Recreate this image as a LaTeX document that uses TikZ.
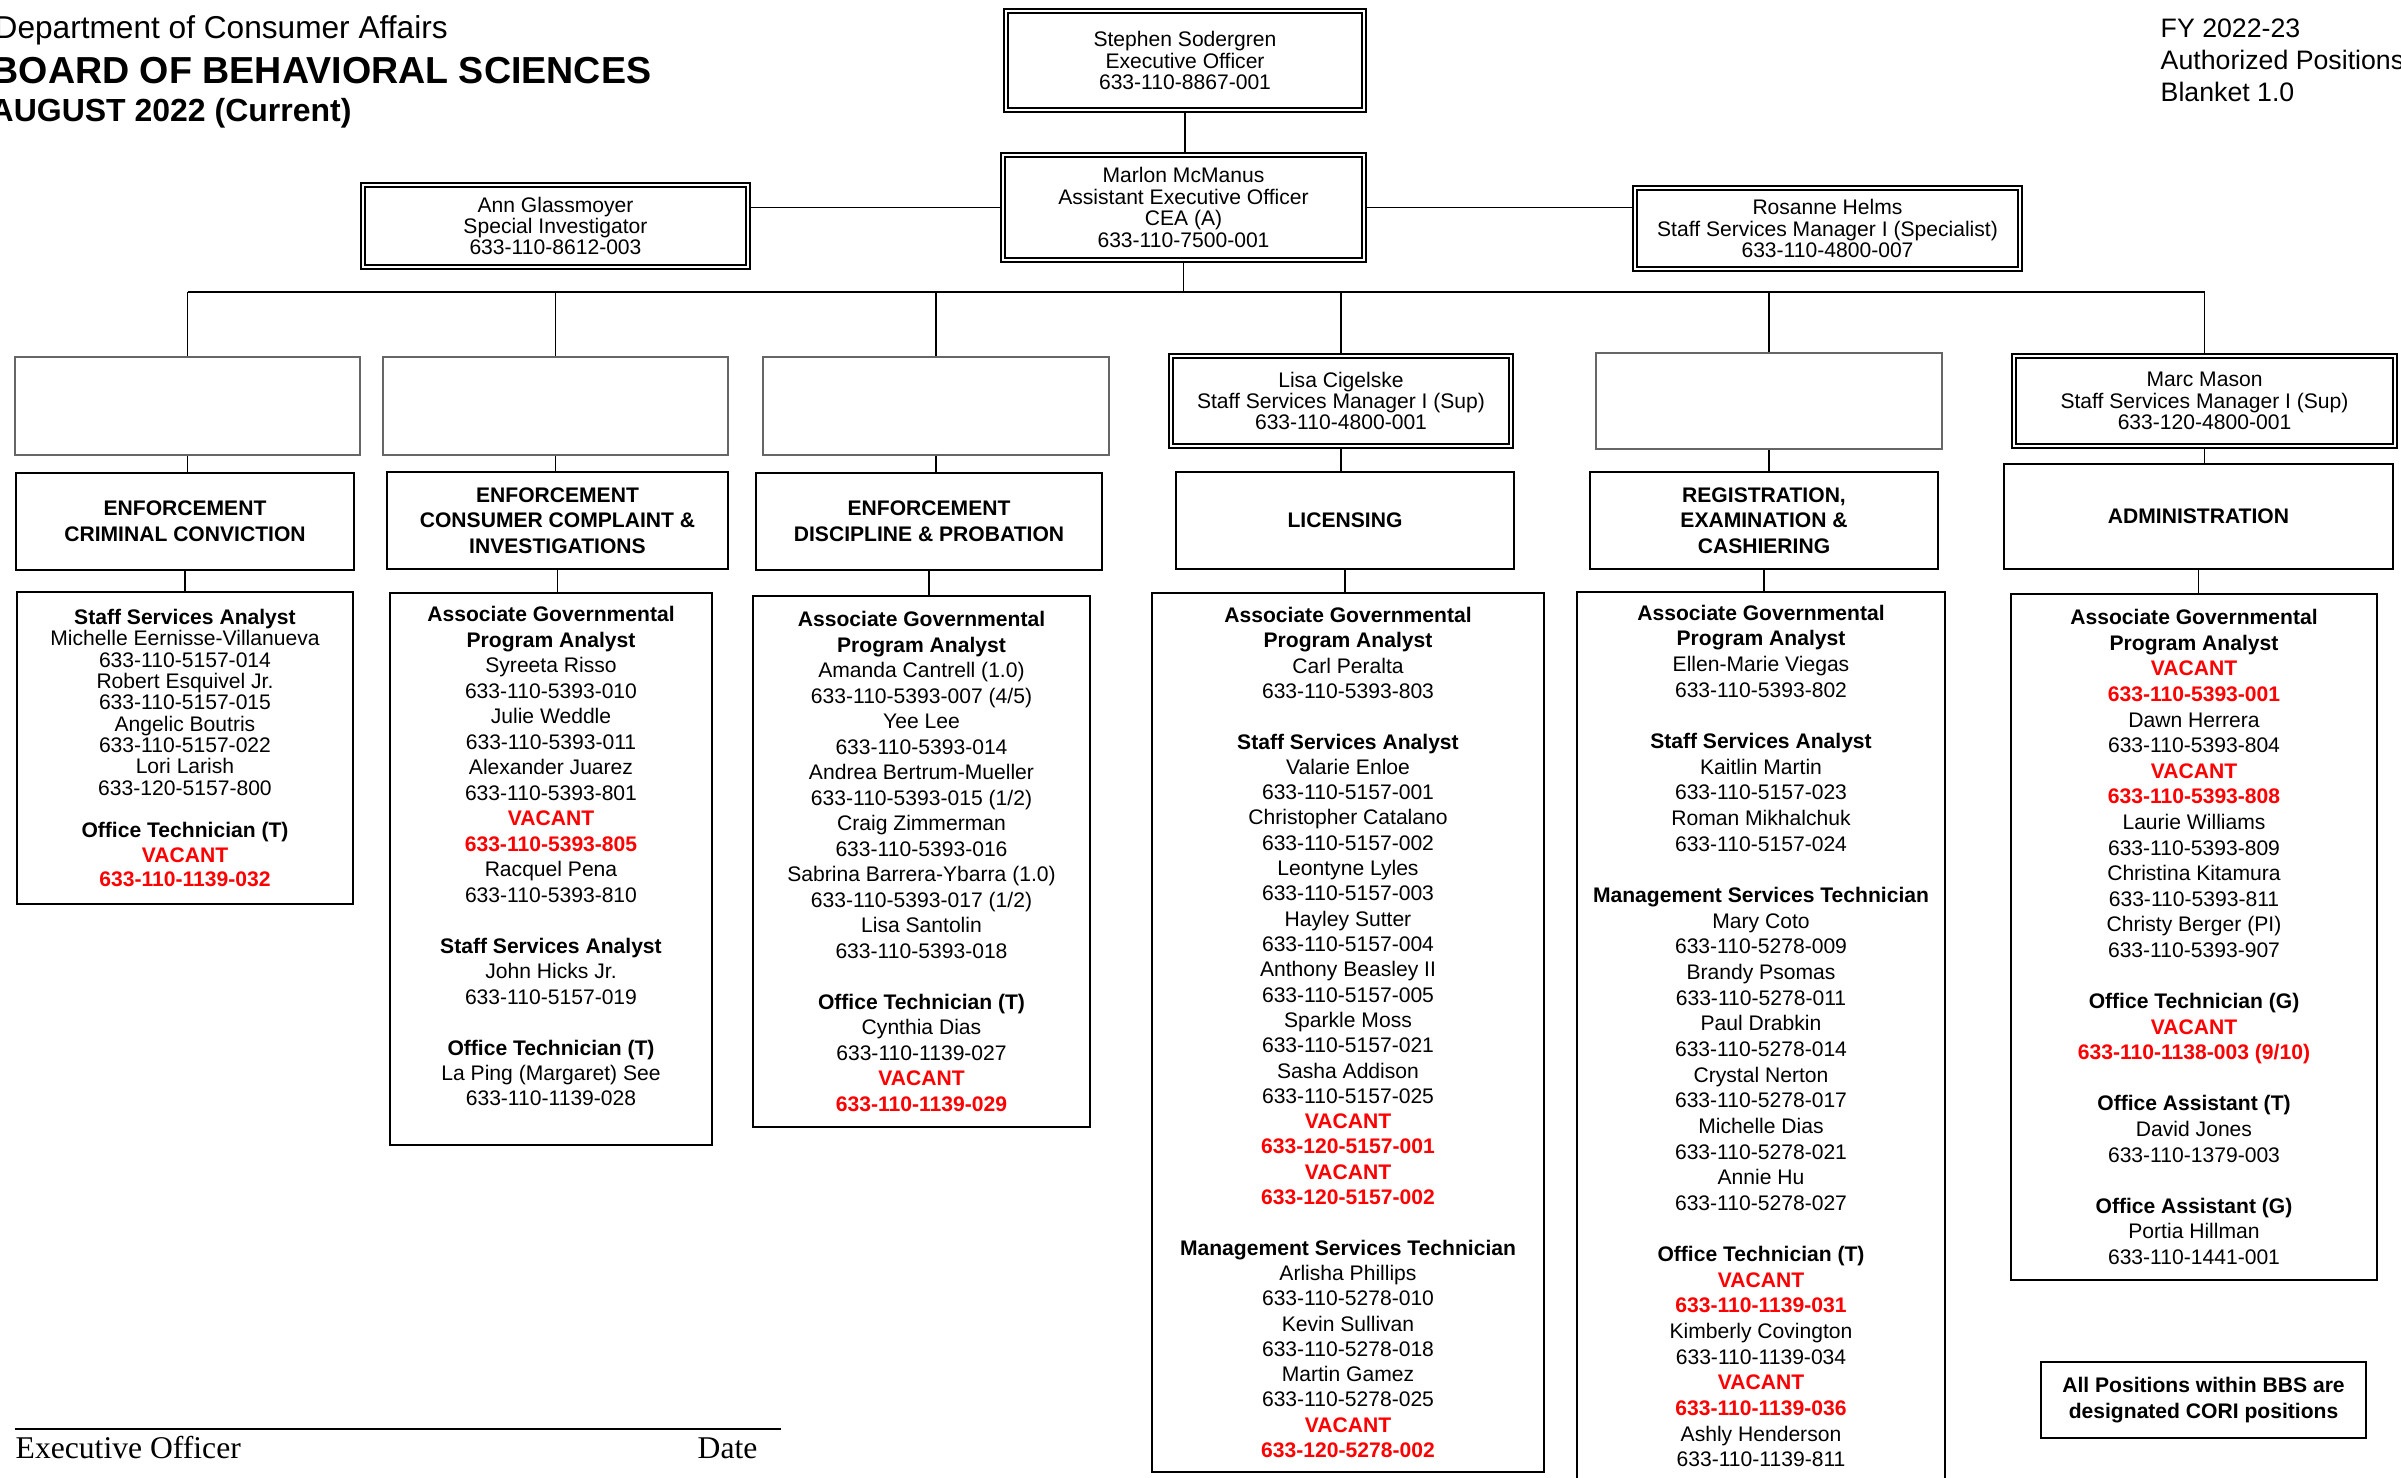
\documentclass[tikz,border=0pt]{standalone}
\usepackage{fontspec}
\setmainfont{Liberation Sans}
\newfontfamily\sigfont{Liberation Serif}
\usepackage{tikz}

\definecolor{vacred}{RGB}{255,0,0}
\newcommand{\jtitle}[1]{\textbf{#1}}
\newcommand{\vacant}[1]{\textcolor{vacred}{\textbf{#1}}}

\begin{document}
\begin{tikzpicture}[
    postbox/.style={draw,double,double distance=0.8pt,line width=0.5pt,fill=white,align=center,inner sep=1pt,font=\fontsize{6}{6.1}\selectfont},
    emptybox/.style={draw=black!60,line width=0.4pt,fill=white},
    unitbox/.style={draw,line width=0.6pt,fill=white,align=center,font=\fontsize{6}{7.3}\selectfont\bfseries},
    staffbox/.style={draw,line width=0.6pt,fill=white,align=center,inner sep=1pt,font=\fontsize{6}{7.25}\selectfont},
    headtext/.style={anchor=base west,inner sep=0pt},
    wire/.style={line width=0.5pt}]

    \path[use as bounding box,fill=white] (0,0) rectangle (24.01,-14.77);

    % heading
    \node[headtext,font=\fontsize{9}{10}\selectfont] (dca) at (-0.06,-0.385) {Department of Consumer Affairs};
    \node[headtext,font=\fontsize{10.7}{12}\selectfont\bfseries] (bbs) at (-0.09,-0.83) {BOARD OF BEHAVIORAL SCIENCES};
    \node[headtext,font=\fontsize{9.1}{10}\selectfont\bfseries] (month) at (-0.10,-1.21) {AUGUST 2022 (Current)};

    \node[headtext,font=\fontsize{7.6}{9}\selectfont] (fy) at (21.60,-0.37) {FY 2022-23};
    \node[headtext,font=\fontsize{7.6}{9}\selectfont] (auth) at (21.60,-0.69) {Authorized Positions};
    \node[headtext,font=\fontsize{7.6}{9}\selectfont] (blanket) at (21.60,-1.01) {Blanket 1.0};

    % executive level
    \node[postbox,minimum width=3.58cm,minimum height=0.99cm] (eo) at (11.85,-0.605)
        {Stephen Sodergren\\Executive Officer\\633-110-8867-001};
    \node[postbox,minimum width=3.61cm,minimum height=1.05cm] (aeo) at (11.835,-2.075)
        {Marlon McManus\\Assistant Executive Officer\\CEA (A)\\633-110-7500-001};
    \node[postbox,minimum width=3.85cm,minimum height=0.82cm] (inv) at (5.555,-2.26)
        {Ann Glassmoyer\\Special Investigator\\633-110-8612-003};
    \node[postbox,minimum width=3.85cm,minimum height=0.81cm] (spec) at (18.275,-2.285)
        {Rosanne Helms\\Staff Services Manager I (Specialist)\\633-110-4800-007};

    % managers
    \node[emptybox,minimum width=3.45cm,minimum height=0.98cm] (e1) at (1.875,-4.06) {};
    \node[emptybox,minimum width=3.45cm,minimum height=0.98cm] (e2) at (5.555,-4.06) {};
    \node[emptybox,minimum width=3.46cm,minimum height=0.98cm] (e3) at (9.36,-4.06) {};
    \node[postbox,minimum width=3.40cm,minimum height=0.90cm] (lisa) at (13.41,-4.01)
        {Lisa Cigelske\\Staff Services Manager I (Sup)\\633-110-4800-001};
    \node[emptybox,minimum width=3.46cm,minimum height=0.96cm] (e5) at (17.69,-4.01) {};
    \node[postbox,minimum width=3.81cm,minimum height=0.90cm] (marc) at (22.045,-4.01)
        {Marc Mason\\Staff Services Manager I (Sup)\\633-120-4800-001};

    % units
    \node[unitbox,minimum width=3.38cm,minimum height=0.97cm] (cc) at (1.85,-5.215)
        {ENFORCEMENT\\CRIMINAL CONVICTION};
    \node[unitbox,minimum width=3.41cm,minimum height=0.97cm] (ci) at (5.575,-5.205)
        {ENFORCEMENT\\CONSUMER COMPLAINT \&\\INVESTIGATIONS};
    \node[unitbox,minimum width=3.46cm,minimum height=0.97cm] (dp) at (9.29,-5.215)
        {ENFORCEMENT\\DISCIPLINE \& PROBATION};
    \node[unitbox,minimum width=3.38cm,minimum height=0.97cm] (lic) at (13.45,-5.205)
        {LICENSING};
    \node[unitbox,minimum width=3.48cm,minimum height=0.97cm] (rec) at (17.64,-5.205)
        {REGISTRATION,\\EXAMINATION \&\\CASHIERING};
    \node[unitbox,minimum width=3.89cm,minimum height=1.05cm] (adm) at (21.985,-5.165)
        {ADMINISTRATION};

    % staff lists
    \node[staffbox,minimum width=3.36cm,minimum height=3.12cm,font=\fontsize{6}{6.07}\selectfont] (l1) at (1.85,-7.48)
        {\jtitle{Staff Services Analyst}\\
         Michelle Eernisse-Villanueva\\633-110-5157-014\\
         Robert Esquivel Jr.\\633-110-5157-015\\
         Angelic Boutris\\633-110-5157-022\\
         Lori Larish\\633-120-5157-800\\[6.07pt]
         \jtitle{Office Technician (T)}\\[0.9pt]
         \vacant{VACANT}\\[0.9pt]\vacant{633-110-1139-032}};

    \node[staffbox,minimum width=3.22cm,minimum height=5.52cm] (l2) at (5.51,-8.69)
        {\jtitle{Associate Governmental}\\\jtitle{Program Analyst}\\
         Syreeta Risso\\633-110-5393-010\\
         Julie Weddle\\633-110-5393-011\\
         Alexander Juarez\\633-110-5393-801\\
         \vacant{VACANT}\\\vacant{633-110-5393-805}\\
         Racquel Pena\\633-110-5393-810\\[7.25pt]
         \jtitle{Staff Services Analyst}\\
         John Hicks Jr.\\633-110-5157-019\\[7.25pt]
         \jtitle{Office Technician (T)}\\
         La Ping (Margaret) See\\633-110-1139-028\\ \mbox{}};

    \node[staffbox,minimum width=3.37cm,minimum height=5.31cm] (l3) at (9.215,-8.615)
        {\jtitle{Associate Governmental}\\\jtitle{Program Analyst}\\
         Amanda Cantrell (1.0)\\633-110-5393-007 (4/5)\\
         Yee Lee\\633-110-5393-014\\
         Andrea Bertrum-Mueller\\633-110-5393-015 (1/2)\\
         Craig Zimmerman\\633-110-5393-016\\
         Sabrina Barrera-Ybarra (1.0)\\633-110-5393-017 (1/2)\\
         Lisa Santolin\\633-110-5393-018\\[7.25pt]
         \jtitle{Office Technician (T)}\\
         Cynthia Dias\\633-110-1139-027\\
         \vacant{VACANT}\\\vacant{633-110-1139-029}};

    \node[staffbox,minimum width=3.92cm,minimum height=8.79cm,font=\fontsize{6}{7.2}\selectfont] (l4) at (13.48,-10.325)
        {\jtitle{Associate Governmental}\\\jtitle{Program Analyst}\\
         Carl Peralta\\633-110-5393-803\\[7.2pt]
         \jtitle{Staff Services Analyst}\\
         Valarie Enloe\\633-110-5157-001\\
         Christopher Catalano\\633-110-5157-002\\
         Leontyne Lyles\\633-110-5157-003\\
         Hayley Sutter\\633-110-5157-004\\
         Anthony Beasley II\\633-110-5157-005\\
         Sparkle Moss\\633-110-5157-021\\
         Sasha Addison\\633-110-5157-025\\
         \vacant{VACANT}\\\vacant{633-120-5157-001}\\
         \vacant{VACANT}\\\vacant{633-120-5157-002}\\[7.2pt]
         \jtitle{Management Services Technician}\\
         Arlisha Phillips\\633-110-5278-010\\
         Kevin Sullivan\\633-110-5278-018\\
         Martin Gamez\\633-110-5278-025\\
         \vacant{VACANT}\\\vacant{633-120-5278-002}};

    \node[staffbox,minimum width=3.68cm,minimum height=8.88cm,font=\fontsize{6}{7.3}\selectfont] (l5) at (17.61,-10.36)
        {\jtitle{Associate Governmental}\\\jtitle{Program Analyst}\\
         Ellen-Marie Viegas\\633-110-5393-802\\[7.3pt]
         \jtitle{Staff Services Analyst}\\
         Kaitlin Martin\\633-110-5157-023\\
         Roman Mikhalchuk\\633-110-5157-024\\[7.3pt]
         \jtitle{Management Services Technician}\\
         Mary Coto\\633-110-5278-009\\
         Brandy Psomas\\633-110-5278-011\\
         Paul Drabkin\\633-110-5278-014\\
         Crystal Nerton\\633-110-5278-017\\
         Michelle Dias\\633-110-5278-021\\
         Annie Hu\\633-110-5278-027\\[7.3pt]
         \jtitle{Office Technician (T)}\\
         \vacant{VACANT}\\\vacant{633-110-1139-031}\\
         Kimberly Covington\\633-110-1139-034\\
         \vacant{VACANT}\\\vacant{633-110-1139-036}\\
         Ashly Henderson\\633-110-1139-811};

    \node[staffbox,minimum width=3.66cm,minimum height=6.86cm,font=\fontsize{6}{7.28}\selectfont] (l6) at (21.94,-9.37)
        {\jtitle{Associate Governmental}\\\jtitle{Program Analyst}\\
         \vacant{VACANT}\\\vacant{633-110-5393-001}\\
         Dawn Herrera\\633-110-5393-804\\
         \vacant{VACANT}\\\vacant{633-110-5393-808}\\
         Laurie Williams\\633-110-5393-809\\
         Christina Kitamura\\633-110-5393-811\\
         Christy Berger (PI)\\633-110-5393-907\\[7.28pt]
         \jtitle{Office Technician (G)}\\
         \vacant{VACANT}\\\vacant{633-110-1138-003 (9/10)}\\[7.28pt]
         \jtitle{Office Assistant (T)}\\
         David Jones\\633-110-1379-003\\[7.28pt]
         \jtitle{Office Assistant (G)}\\
         Portia Hillman\\633-110-1441-001};

    \node[unitbox,minimum width=3.25cm,minimum height=0.76cm,font=\fontsize{6}{7.4}\selectfont\bfseries] (cori) at (22.035,-14.00)
        {All Positions within BBS are\\designated CORI positions};

    % connectors
    \coordinate (bus) at (0,-2.92);
    \draw[wire] (eo) -- (eo |- aeo.north);
    \draw[wire] (inv.east |- aeo) -- (aeo);
    \draw[wire] (aeo) -- (spec.west |- aeo);
    \draw[wire] (aeo) -- (aeo |- bus);
    \draw[wire] (e1 |- bus) -- (marc |- bus);

    \draw[wire] (e1 |- bus) -- (e1);
    \draw[wire] (e2 |- bus) -- (e2);
    \draw[wire] (e3 |- bus) -- (e3);
    \draw[wire] (lisa |- bus) -- (lisa);
    \draw[wire] (e5 |- bus) -- (e5);
    \draw[wire] (marc |- bus) -- (marc);

    \draw[wire] (e1) -- (e1 |- cc.north);
    \draw[wire] (e2) -- (e2 |- ci.north);
    \draw[wire] (e3) -- (e3 |- dp.north);
    \draw[wire] (lisa) -- (lisa |- lic.north);
    \draw[wire] (e5) -- (e5 |- rec.north);
    \draw[wire] (marc) -- (marc |- adm.north);

    \draw[wire] (cc) -- (cc |- l1.north);
    \draw[wire] (ci) -- (ci |- l2.north);
    \draw[wire] (dp) -- (dp |- l3.north);
    \draw[wire] (lic) -- (lic |- l4.north);
    \draw[wire] (rec) -- (rec |- l5.north);
    \draw[wire] (adm) -- (adm |- l6.north);

    % signature
    \coordinate (sigl) at (0.15,-14.29);
    \coordinate (sigr) at (7.81,-14.29);
    \draw[line width=0.8pt] (sigl) -- (sigr);
    \node[headtext,font=\sigfont\fontsize{9}{10}\selectfont] (sig) at (0.15,-14.58) {Executive Officer};
    \node[headtext,font=\sigfont\fontsize{9}{10}\selectfont] (sigdate) at (6.97,-14.58) {Date};
\end{tikzpicture}
\end{document}
